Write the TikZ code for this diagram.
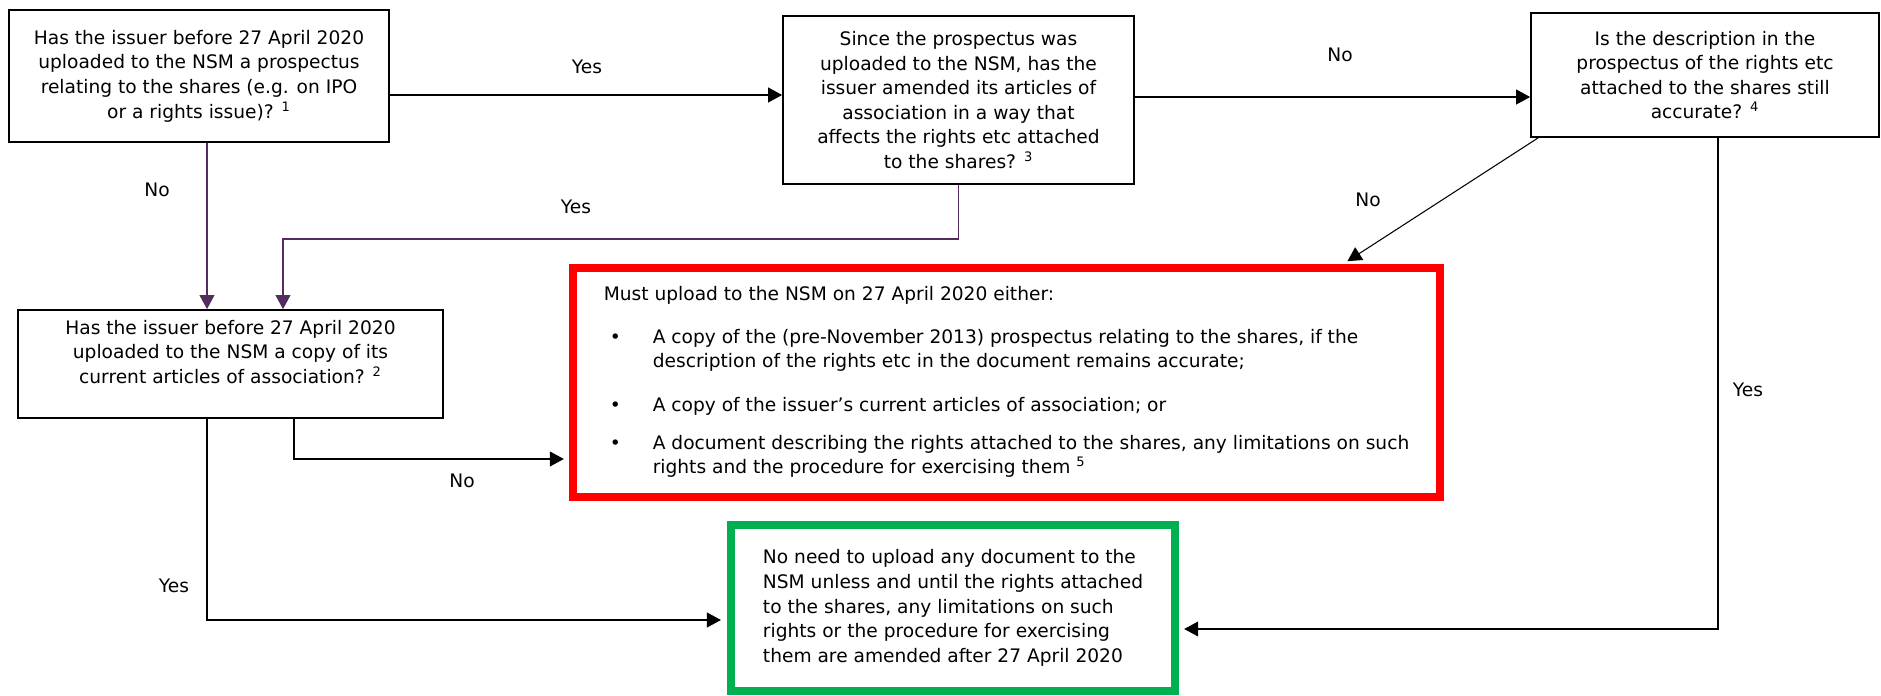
\documentclass[tikz,border=0pt]{standalone}
\usepackage{fontspec}
\setmainfont{DejaVu Sans}
\usetikzlibrary{arrows.meta,positioning,calc}
\definecolor{plum}{RGB}{84,44,96}
\definecolor{mustred}{RGB}{255,0,0}
\definecolor{nogreen}{RGB}{0,176,80}
\tikzstyle{question} = [rectangle, draw, line width=1pt, align=center, inner sep=0pt]
\tikzstyle{outcome} = [rectangle, draw, line width=4.5pt, inner sep=0pt]
\tikzstyle{connector} = [draw, line width=0.6pt, -{Triangle[length=8pt,width=8.5pt]}]
\tikzstyle{purpleconn} = [connector, draw=plum]
\tikzstyle{answer} = [inner sep=1pt]

\begin{document}
\begin{tikzpicture}[x=0.02cm, y=-0.02cm, font=\fontsize{10.6}{14}\selectfont]
        \useasboundingbox (0,0) rectangle (1881,696);

        \node[question, minimum width=7.6cm, minimum height=2.64cm] (prosp) at (199,76) {Has the issuer before 27 April 2020\\uploaded to the NSM a prospectus\\relating to the shares (e.g. on IPO\\or a rights issue)? \textsuperscript{1}};
        \node[question, minimum width=7.02cm, minimum height=3.36cm] (amended) at (958.5,100) {Since the prospectus was\\uploaded to the NSM, has the\\issuer amended its articles of\\association in a way that\\affects the rights etc attached\\to the shares? \textsuperscript{3}};
        \node[question, minimum width=6.96cm, minimum height=2.48cm] (accurate) at (1705,75) {Is the description in the\\prospectus of the rights etc\\attached to the shares still\\accurate? \textsuperscript{4}};
        \node[question, minimum width=8.5cm, minimum height=2.16cm] (articles) at (230.5,364) {Has the issuer before 27 April 2020\\uploaded to the NSM a copy of its\\current articles of association? \textsuperscript{2}\\};

        \node[outcome, draw=mustred, minimum width=17.34cm, minimum height=4.58cm] (upload) at (1006.5,382.5) {%
          \begin{tabular}{@{\hspace{0.12cm}}p{0.86cm}@{}l@{}}
            \multicolumn{2}{@{}l@{}}{Must upload to the NSM on 27 April 2020 either:}\\[10pt]
            \textbullet & A copy of the (pre-November 2013) prospectus relating to the shares, if the\\
                        & description of the rights etc in the document remains accurate;\\[11pt]
            \textbullet & A copy of the issuer’s current articles of association; or\\[7.5pt]
            \textbullet & A document describing the rights attached to the shares, any limitations on such\\
                        & rights and the procedure for exercising them \textsuperscript{5}
          \end{tabular}};
        \node[outcome, draw=nogreen, align=left, minimum width=8.88cm, minimum height=3.32cm] (noneed) at (953,608) {No need to upload any document to the\\NSM unless and until the rights attached\\to the shares, any limitations on such\\rights or the procedure for exercising\\them are amended after 27 April 2020};

        \coordinate (yesrow) at (0,95);
        \coordinate (norow) at (0,97);
        \coordinate (leftcol) at (207,0);
        \coordinate (yesbend) at (283,239);
        \coordinate (nobend) at (294,459);
        \coordinate (lowrow) at (0,620);
        \coordinate (rightcol) at (1718,629);
        \coordinate (diagtip) at (1343,0);

        \draw[connector] (prosp.east |- yesrow) -- (amended.west |- yesrow);
        \draw[connector] (amended.east |- norow) -- (accurate.west |- norow);
        \draw[connector, shorten >=3pt] ($(accurate.south west)+(8,0)$) -- (upload.north -| diagtip);
        \draw[connector, shorten >=3pt] (accurate.south -| rightcol) |- (noneed.east |- rightcol);

        \draw[purpleconn] (prosp.south -| leftcol) -- (articles.north -| leftcol);
        \draw[purpleconn] (amended.south) |- (yesbend) -- (yesbend |- articles.north);

        \draw[connector, shorten >=3pt] (articles.south -| nobend) |- (upload.west |- nobend);
        \draw[connector, shorten >=3.5pt] (articles.south -| leftcol) |- (noneed.west |- lowrow);

        \node[answer] (yesA) at (587,67) {Yes};
        \node[answer] (noA) at (1340,55) {No};
        \node[answer] (noB) at (157,190) {No};
        \node[answer] (yesB) at (576,207) {Yes};
        \node[answer] (noC) at (1368,200) {No};
        \node[answer] (yesC) at (1748,390) {Yes};
        \node[answer] (noD) at (462,481) {No};
        \node[answer] (yesD) at (174,586) {Yes};

    \end{tikzpicture}
\end{document}
